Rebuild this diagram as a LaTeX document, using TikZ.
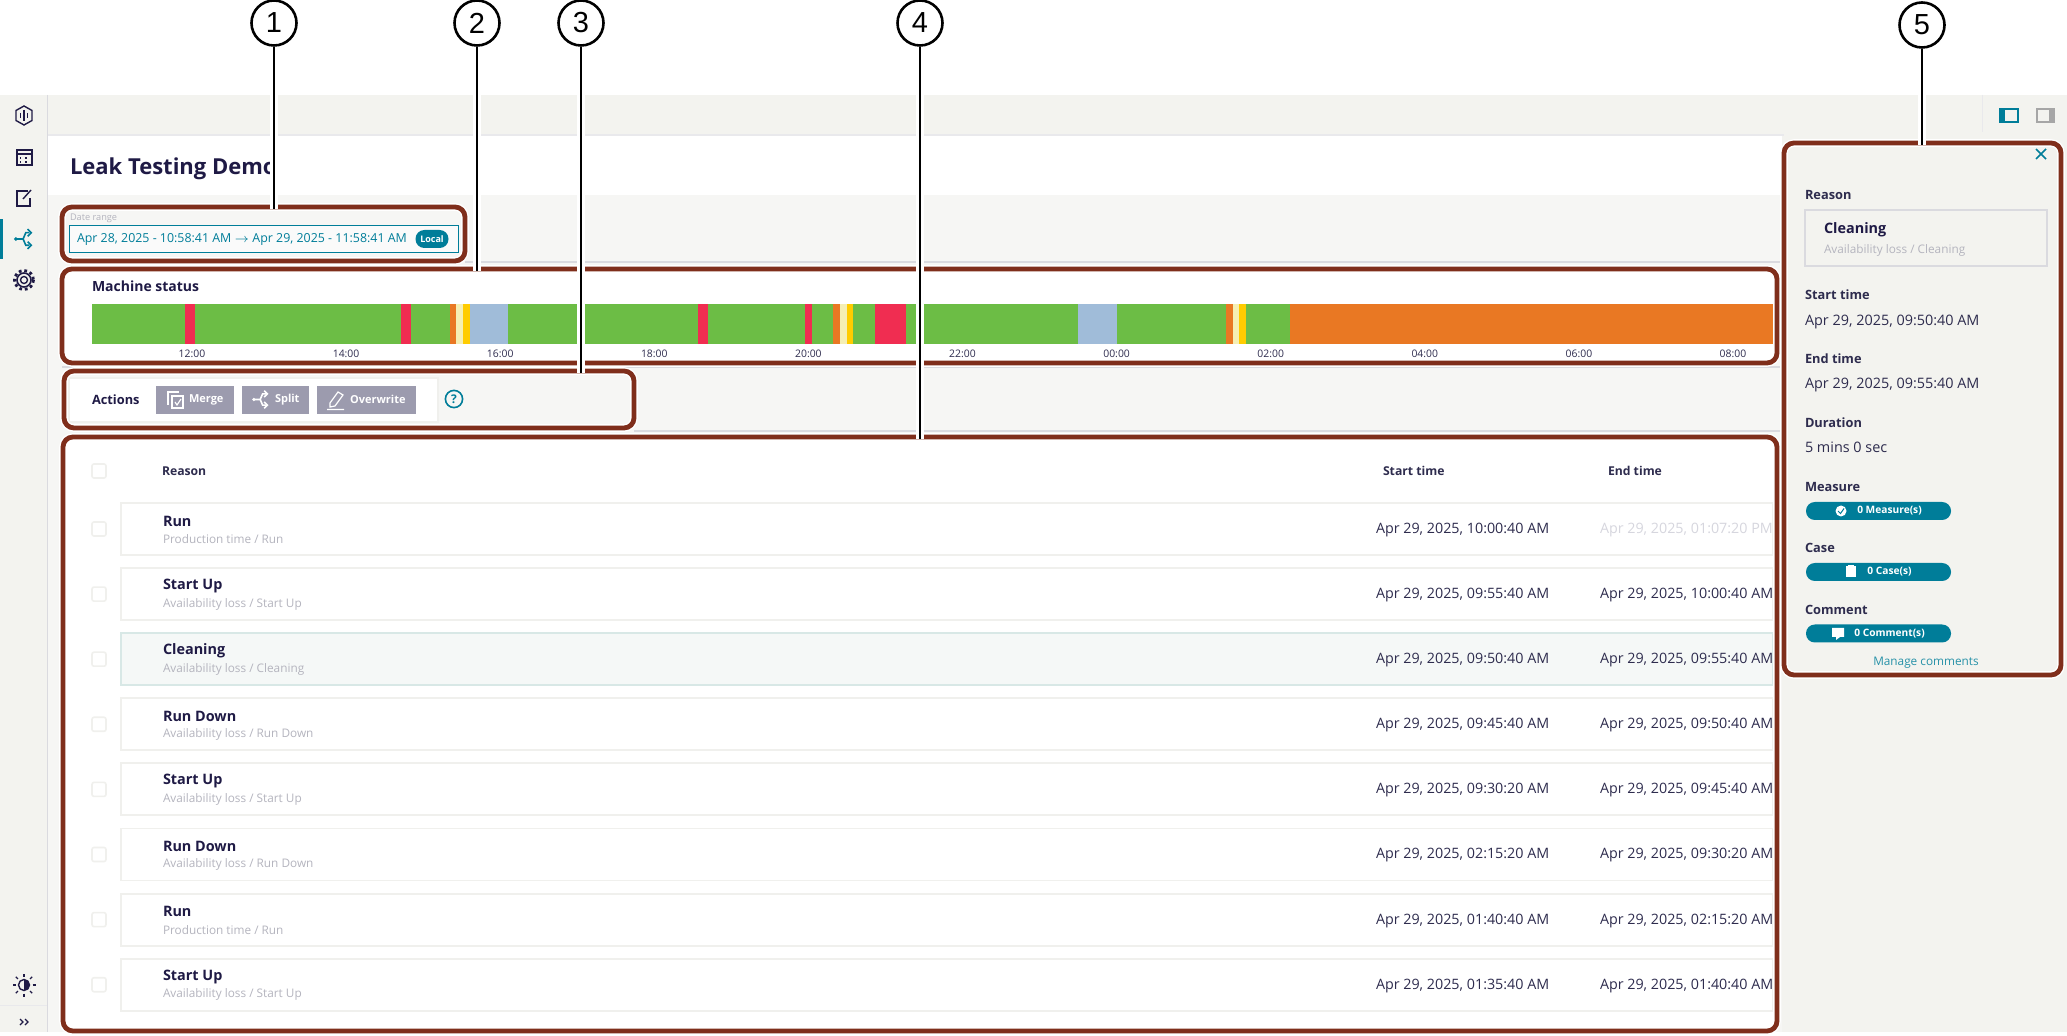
\documentclass[tikz,border=0pt]{standalone}
\usepackage{fontspec}
\setmainfont{Open Sans}
\newfontfamily\callfont{Liberation Sans}
\definecolor{appbg}{HTML}{F3F3EF}
\definecolor{mainbg}{HTML}{F6F6F4}
\definecolor{sepline}{HTML}{DADADF}
\definecolor{rowline}{HTML}{F0F0ED}
\definecolor{rowsel}{HTML}{F5F8F7}
\definecolor{rowselline}{HTML}{D8E8E6}
\definecolor{hlbrown}{HTML}{7F2E1B}
\definecolor{tealui}{HTML}{007D99}
\definecolor{navytxt}{HTML}{1F1A45}
\definecolor{datetxt}{HTML}{2E2C4E}
\definecolor{subtxt}{HTML}{B4B4BE}
\definecolor{fadetxt}{HTML}{D6D6DE}
\definecolor{btngray}{HTML}{9C9BAE}
\definecolor{stgreen}{HTML}{6CBD45}
\definecolor{stred}{HTML}{F02D51}
\definecolor{storange}{HTML}{E97823}
\definecolor{stpale}{HTML}{F5EFB4}
\definecolor{styellow}{HTML}{FFCC00}
\definecolor{stblue}{HTML}{A0BCD9}
\tikzset{
	x=0.5pt,y=-0.5pt,
	txt/.style={anchor=west,inner sep=0pt,outer sep=0pt},
	rowtitle/.style={txt,text=navytxt,font=\fontsize{7.2}{9}\selectfont\bfseries},
	rowsub/.style={txt,text=subtxt,font=\fontsize{5.9}{7}\selectfont},
	rowtime/.style={txt,font=\fontsize{7.15}{8}\selectfont},
	headtxt/.style={txt,text=datetxt,font=\fontsize{6.1}{8}\selectfont\bfseries},
	paneltitle/.style={txt,text=datetxt,font=\fontsize{6.4}{8}\selectfont\bfseries},
	paneltxt/.style={txt,text=datetxt,font=\fontsize{7.2}{8}\selectfont},
	pilltxt/.style={anchor=center,inner sep=0pt,text=white,font=\fontsize{5.1}{6}\selectfont\bfseries},
	btntxt/.style={txt,text=white,font=\fontsize{5.5}{7}\selectfont\bfseries},
	ticktxt/.style={anchor=center,inner sep=0pt,text=datetxt,font=\fontsize{5.2}{7}\selectfont},
	hlbox/.style={draw=hlbrown,line width=2.4pt,rounded corners=5pt,preaction={draw=white,line width=3.8pt}},
	callcirc/.style={circle,draw=black,fill=white,line width=1.3pt,minimum size=22.5pt,inner sep=0pt,font=\callfont\fontsize{14.5}{16}\selectfont},
	callline/.style={draw=black,line width=1.35pt,preaction={draw=white,line width=4pt}},
	chkbox/.style={draw=rowline,line width=0.8pt,fill=white,rounded corners=1pt},
	navicon/.style={draw=navytxt,line width=0.7pt},
	split icon/.pic={
		\draw[line width=0.8pt] (-9,0) -- (-1,0) (6,-7) -- (2,-7) -- (-1,0) -- (2,7) -- (6,7);
		\fill (-9,0) circle (2.2);
		\draw[line width=0.8pt] (4,-11) -- (8,-7) -- (4,-3) (4,3) -- (8,7) -- (4,11);
	},
}
\begin{document}
\begin{tikzpicture}
	\useasboundingbox (0,0) rectangle (2067,1036);
	\fill[white] (0,0) rectangle (2067,1036);
	% app background
	\fill[appbg] (0,95) rectangle (2067,1032);
	\fill[mainbg] (48,195) rectangle (1782,1032);
	\fill[white] (48,136) rectangle (1782,195);
	\draw[sepline,line width=0.5pt] (47,95) -- (47,1032);
	\draw[sepline!60,line width=1pt] (48,135) -- (1982,135);
	\draw[sepline!60,line width=0.5pt] (1982,95) -- (1982,132);
	\draw[sepline!60,line width=0.5pt] (0,1005) -- (47,1005);
	\draw[sepline,line width=0.6pt] (465,262) -- (1782,262);
	\draw[sepline,line width=0.6pt] (62,367) -- (1782,367);
	\draw[sepline,line width=0.6pt] (634,431) -- (1782,431);

	% sidebar
	\draw[navicon] (24,106) -- (32,110.5) -- (32,120.5) -- (24,125) -- (16,120.5) -- (16,110.5) -- cycle;
	\draw[navicon] (20.5,113) -- (20.5,118) (24,110) -- (24,121) (27.5,113) -- (27.5,118);
	\draw[navicon] (17,150) rectangle (32,165);
	\draw[navicon] (17,154) -- (32,154);
	\draw[navicon,dotted] (20,158) -- (30,158) (20,162) -- (30,162);
	\draw[navicon] (28,191) -- (17,191) -- (17,206) -- (30,206) -- (30,198);
	\draw[navicon] (23,199) -- (31,190);
	\fill[tealui] (0,219) rectangle (3,259);
	\pic[tealui,scale=0.9] at (24,239) {split icon};
	\draw[navytxt,line width=0.7pt] (24,280) circle (3.5);
	\draw[navytxt,line width=0.8pt] (24,280) circle (7);
	\draw[navytxt,line width=1.4pt,dash pattern=on 1.4pt off 1.4pt] (24,280) circle (9.5);
	\draw[navicon] (24,985) circle (5.5);
	\fill[navytxt] (24,979.5) arc (-90:90:5.5) -- cycle;
	\foreach \ang in {0,45,...,315}
		\draw[navicon] (24,985) ++(\ang:8.5) -- ++(\ang:3);
	\draw[navytxt,line width=0.7pt] (20,1019) -- (23,1022) -- (20,1025) (25,1019) -- (28,1022) -- (25,1025);

	% top right view icons
	\draw[tealui,line width=0.8pt] (2000,109) rectangle (2018,122);
	\fill[tealui] (2000,109) rectangle (2005,122);
	\draw[gray!70,line width=0.8pt] (2037,109) rectangle (2054,122);
	\fill[gray!70] (2049,109) rectangle (2054,122);

	% title
	\begin{scope}
		\clip (60,145) rectangle (271,190);
		\node[txt,text=navytxt,font=\fontsize{11}{13}\selectfont\bfseries] (title) at (70,169) {Leak Testing Demo};
	\end{scope}

	% date range
	\node[txt,text=subtxt,font=\fontsize{4.6}{6}\selectfont] (datelabel) at (70,218) {Date range};
	\draw[tealui,line width=0.5pt,fill=white!50!mainbg] (69,226) rectangle (458,253);
	\node[txt,text=tealui,font=\fontsize{6.2}{8}\selectfont] (daterange) at (77,240) {Apr 28, 2025 - 10:58:41 AM $\rightarrow$ Apr 29, 2025 - 11:58:41 AM};
	\fill[tealui,rounded corners=4.4pt] (415.5,230) rectangle (448.5,248);
	\node[pilltxt,font=\fontsize{4.5}{6}\selectfont\bfseries] (localbadge) at (432,239) {Local};

	% machine status
	\fill[white] (66,272) rectangle (1775,361);
	\node[txt,text=navytxt,font=\fontsize{7}{9}\selectfont\bfseries] (statustitle) at (92,286) {Machine status};
	\foreach \xa/\xb/\cc in {91.5/185/stgreen,185/194.6/stred,194.6/401/stgreen,401/411/stred,411/450/stgreen,450/456/storange,456/463/stpale,463/470/styellow,470/508/stblue,508/698/stgreen,698/708/stred,708/805/stgreen,805/812/stred,812/833/stgreen,833/840/storange,840/847/stpale,847/853/styellow,853/875/stgreen,875/906/stred,906/1078/stgreen,1078/1117/stblue,1117/1226/stgreen,1226/1233/storange,1233/1239/stpale,1239/1246/styellow,1246/1290/stgreen,1290/1774/storange}
		\fill[\cc] (\xa,304) rectangle (\xb,344);
	\foreach \i/\lab in {0/12:00,1/14:00,2/16:00,3/18:00,4/20:00,5/22:00,6/00:00,7/02:00,8/04:00,9/06:00,10/08:00}
		\node[ticktxt] (tick\i) at (192+154.1*\i,354) {\lab};

	% actions
	\draw[rowline,line width=0.7pt,fill=white] (69,378) rectangle (438,422);
	\node[txt,text=navytxt,font=\fontsize{6.4}{8}\selectfont\bfseries] (actions) at (92,399.5) {Actions};
	\fill[btngray] (156,386) rectangle (234,414);
	\fill[btngray] (242,386) rectangle (309,414);
	\fill[btngray] (317,386) rectangle (416,414);
	\draw[white,line width=0.6pt] (168,405) -- (168,392) -- (179,392) (172,396) rectangle (183,408);
	\draw[white,line width=0.6pt] (175,402) -- (177,405) -- (181,399);
	\node[btntxt] (merge) at (189,399.5) {Merge};
	\pic[white,scale=0.8] at (261,399.5) {split icon};
	\node[btntxt] (split) at (275,399.5) {Split};
	\draw[white,line width=0.6pt] (330,403) -- (338,392) -- (343,395) -- (335,406) -- (330,407) -- cycle (327,409.5) -- (344,409.5);
	\node[btntxt] (overwrite) at (350,399.5) {Overwrite};
	\node[circle,draw=tealui,line width=0.8pt,inner sep=0pt,minimum size=8.6pt,text=tealui,font=\fontsize{6}{7}\selectfont\bfseries] (helpmark) at (454,399) {?};

	% table
	\fill[white] (66,440) rectangle (1775,1029);
	\draw[chkbox] (92,464) rectangle (106,478);
	\node[headtxt] (headreason) at (162,471) {Reason};
	\node[headtxt] (headstart) at (1383,471) {Start time};
	\node[headtxt] (headend) at (1608,471) {End time};
	\foreach \i/\rt/\rs/\ts/\te/\tc/\rf/\rd in {
		0/Run/{Production time / Run}/10:00:40 AM/01:07:20 PM/fadetxt/white/rowline,
		1/Start Up/{Availability loss / Start Up}/09:55:40 AM/10:00:40 AM/datetxt/white/rowline,
		2/Cleaning/{Availability loss / Cleaning}/09:50:40 AM/09:55:40 AM/datetxt/rowsel/rowselline,
		3/Run Down/{Availability loss / Run Down}/09:45:40 AM/09:50:40 AM/datetxt/white/rowline,
		4/Start Up/{Availability loss / Start Up}/09:30:20 AM/09:45:40 AM/datetxt/white/rowline,
		5/Run Down/{Availability loss / Run Down}/02:15:20 AM/09:30:20 AM/datetxt/white/rowline,
		6/Run/{Production time / Run}/01:40:40 AM/02:15:20 AM/datetxt/white/rowline,
		7/Start Up/{Availability loss / Start Up}/01:35:40 AM/01:40:40 AM/datetxt/white/rowline}
	{
		\pgfmathsetmacro{\ry}{529+65.1*\i}
		\draw[\rd,line width=0.9pt,fill=\rf] (121,\ry-26) rectangle (1773,\ry+26);
		\draw[chkbox] (92,\ry-7) rectangle (106,\ry+7);
		\node[rowtitle] (rowtitle\i) at (163,\ry-8) {\rt};
		\node[rowsub] (rowsub\i) at (163,\ry+10) {\rs};
		\node[rowtime,text=datetxt] (rowstart\i) at (1376,\ry+1) {Apr 29, 2025, \ts};
		\node[rowtime,text=\tc] (rowend\i) at (1600,\ry+1) {Apr 29, 2025, \te};
	}

	% side panel
	\fill[appbg] (1784,132) rectangle (2067,1032);
	\draw[tealui,line width=0.8pt] (2036,149) -- (2046,159) (2046,149) -- (2036,159);
	\node[paneltitle] (pnreason) at (1805,195) {Reason};
	\draw[sepline,line width=0.9pt] (1805,210) rectangle (2047,266);
	\node[rowtitle] (pnclean) at (1824,230) {Cleaning};
	\node[rowsub] (pncleansub) at (1824,250) {Availability loss / Cleaning};
	\node[paneltitle] (pnstart) at (1805,295) {Start time};
	\node[paneltxt] (pnstartval) at (1805,322) {Apr 29, 2025, 09:50:40 AM};
	\node[paneltitle] (pnend) at (1805,359) {End time};
	\node[paneltxt] (pnendval) at (1805,385) {Apr 29, 2025, 09:55:40 AM};
	\node[paneltitle] (pndur) at (1805,423) {Duration};
	\node[paneltxt] (pndurval) at (1805,447.5) {5 mins 0 sec};
	\node[paneltitle] (pnmeas) at (1805,487) {Measure};
	\node[paneltitle] (pncase) at (1805,548) {Case};
	\node[paneltitle] (pncomm) at (1805,610) {Comment};
	\fill[tealui,rounded corners=4.4pt] (1806,502) rectangle (1951,520);
	\fill[tealui,rounded corners=4.4pt] (1806,563) rectangle (1951,581);
	\fill[tealui,rounded corners=4.4pt] (1806,624.5) rectangle (1951,642.5);
	\node[pilltxt] (pillmeas) at (1889.5,511) {0 Measure(s)};
	\node[pilltxt] (pillcase) at (1889.5,572) {0 Case(s)};
	\node[pilltxt] (pillcomm) at (1889.5,633.5) {0 Comment(s)};
	\fill[white] (1841,511) circle (5.5);
	\draw[tealui,line width=0.5pt] (1838,511) -- (1840.5,513.5) -- (1844,508.5);
	\fill[white] (1846,566.5) rectangle (1855.5,577.5);
	\fill[white] (1848,565) rectangle (1853.5,567);
	\fill[white] (1832,628) rectangle (1844,637) (1836,637) -- (1840,637) -- (1836,640) -- cycle;
	\node[anchor=center,inner sep=0pt,text=tealui!85!white,font=\fontsize{5.9}{7}\selectfont] (pnmanage) at (1926,663) {Manage comments};

	% highlight boxes
	\draw[hlbox] (62,207) rectangle (465,261);
	\draw[hlbox] (62,269) rectangle (1777,363);
	\draw[hlbox] (64,371) rectangle (634,428);
	\draw[hlbox] (63,437) rectangle (1777,1031);
	\draw[hlbox] (1784,143) rectangle (2061,675);

	% callouts
	\node[callcirc] (call1) at (274,23) {1};
	\node[callcirc] (call2) at (477,23) {2};
	\node[callcirc] (call3) at (581,23) {3};
	\node[callcirc] (call4) at (920,23) {4};
	\node[callcirc] (call5) at (1922,25) {5};
	\coordinate (top1) at (274,209);
	\coordinate (top2) at (477,271);
	\coordinate (top3) at (581,373);
	\coordinate (top4) at (920,439);
	\coordinate (top5) at (1922,145);
	\draw[callline] (call1) -- (top1);
	\draw[callline] (call2) -- (top2);
	\draw[callline] (call3) -- (top3);
	\draw[callline] (call4) -- (top4);
	\draw[callline] (call5) -- (top5);
\end{tikzpicture}
\end{document}
